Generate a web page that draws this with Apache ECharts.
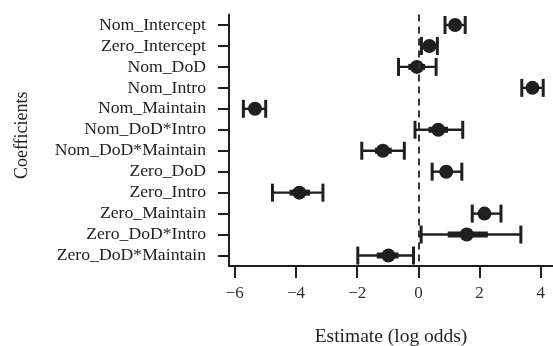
<!DOCTYPE html>
<html>
<head>
<meta charset="utf-8">
<script src="https://cdn.jsdelivr.net/npm/echarts@6/dist/echarts.min.js"></script>
<style>
  html, body { margin: 0; padding: 0; background: #fff; }
  #chart { width: 553px; height: 346px; }
</style>
</head>
<body>
<div id="chart"></div>
<script>
// coefficient names, top to bottom
const coefNames = [
  "Nom_Intercept", "Zero_Intercept", "Nom_DoD", "Nom_Intro", "Nom_Maintain",
  "Nom_DoD*Intro", "Nom_DoD*Maintain", "Zero_DoD", "Zero_Intro",
  "Zero_Maintain", "Zero_DoD*Intro", "Zero_DoD*Maintain"
];
const estimate = [1.20, 0.36, -0.05, 3.73, -5.34, 0.65, -1.16, 0.91, -3.89, 2.16, 1.58, -0.98];
// outer interval
const outerLo = [0.87, 0.10, -0.65, 3.38, -5.72, -0.11, -1.85, 0.45, -4.77, 1.76, 0.09, -1.98];
const outerHi = [1.53, 0.62, 0.58, 4.08, -4.99, 1.45, -0.46, 1.42, -3.12, 2.70, 3.35, -0.16];
// inner (thick) interval
const innerLo = [1.07, 0.26, -0.33, 3.59, -5.49, 0.33, -1.42, 0.72, -4.21, 1.98, 0.96, -1.36];
const innerHi = [1.33, 0.46, 0.22, 3.87, -5.19, 0.97, -0.87, 1.10, -3.54, 2.34, 2.27, -0.65];
const xTicks = [-6, -4, -2, 0, 2, 4];

const ink = "#1f1f1f";
const font = "'Liberation Serif', 'DejaVu Serif', serif";

const barData = coefNames.map((n, i) => [i, outerLo[i], outerHi[i], innerLo[i], innerHi[i]]);
const dotData = coefNames.map((n, i) => [estimate[i], i]);

// error bar: thin outer line with end caps, thick inner segment
const renderBar = function (params, api) {
  const y = api.value(0);
  const a = api.coord([api.value(1), y]);
  const b = api.coord([api.value(2), y]);
  const c = api.coord([api.value(3), y]);
  const d = api.coord([api.value(4), y]);
  const cap = 9;
  const thin = { stroke: ink, lineWidth: 2.4 };
  const capStyle = { stroke: ink, lineWidth: 3 };
  return {
    type: "group",
    children: [
      { type: "line", shape: { x1: a[0], y1: a[1], x2: b[0], y2: b[1] }, style: thin },
      { type: "line", shape: { x1: a[0], y1: a[1] - cap, x2: a[0], y2: a[1] + cap }, style: capStyle },
      { type: "line", shape: { x1: b[0], y1: b[1] - cap, x2: b[0], y2: b[1] + cap }, style: capStyle },
      { type: "line", shape: { x1: c[0], y1: c[1], x2: d[0], y2: d[1] }, style: { stroke: ink, lineWidth: 6 } },
    ],
  };
};

const myChart = echarts.init(document.getElementById("chart"));
const option = {
  backgroundColor: "#fff",
  animation: false,
  textStyle: { fontFamily: font, color: ink },
  grid: { left: 229, right: 0, top: 14.5, height: 251.5, outerBoundsMode: "none", containLabel: false },
  xAxis: {
    type: "value",
    min: -6.19,
    max: 4.40,
    name: "Estimate (log odds)",
    nameLocation: "middle",
    nameGap: 61,
    nameTextStyle: { fontFamily: font, fontSize: 19.5, color: ink },
    axisLine: { show: true, onZero: false, lineStyle: { color: ink, width: 2 } },
    axisTick: { show: true, length: 12, customValues: xTicks, lineStyle: { color: ink, width: 2 } },
    axisLabel: {
      customValues: xTicks,
      margin: 19,
      fontSize: 17,
      color: "#333",
      fontFamily: font,
      formatter: (v) => (v < 0 ? "\u2212" + Math.abs(v) : String(v)),
    },
    splitLine: { show: false },
  },
  yAxis: {
    type: "category",
    inverse: true,
    data: coefNames,
    name: "Coefficients",
    nameLocation: "middle",
    nameGap: 198,
    nameTextStyle: { fontFamily: font, fontSize: 18, color: ink, padding: [0, 0, 0, 10] },
    axisLine: { show: true, onZero: false, lineStyle: { color: ink, width: 2 } },
    axisTick: { show: true, length: 11, alignWithLabel: true, lineStyle: { color: ink, width: 2 } },
    axisLabel: { margin: 23, fontSize: 17.7, color: ink, fontFamily: font, interval: 0 },
    splitLine: { show: false },
  },
  series: [
    {
      type: "custom",
      renderItem: renderBar,
      encode: { y: 0, x: [1, 2, 3, 4] },
      data: barData,
      z: 2,
    },
    {
      type: "scatter",
      symbol: "circle",
      symbolSize: 14,
      itemStyle: { color: ink, opacity: 1 },
      data: dotData,
      z: 3,
      markLine: {
        silent: true,
        symbol: "none",
        label: { show: false },
        lineStyle: { color: "#333", width: 2, type: [7, 5] },
        data: [{ xAxis: 0 }],
      },
    },
  ],
};
myChart.setOption(option);
</script>
</body>
</html>
